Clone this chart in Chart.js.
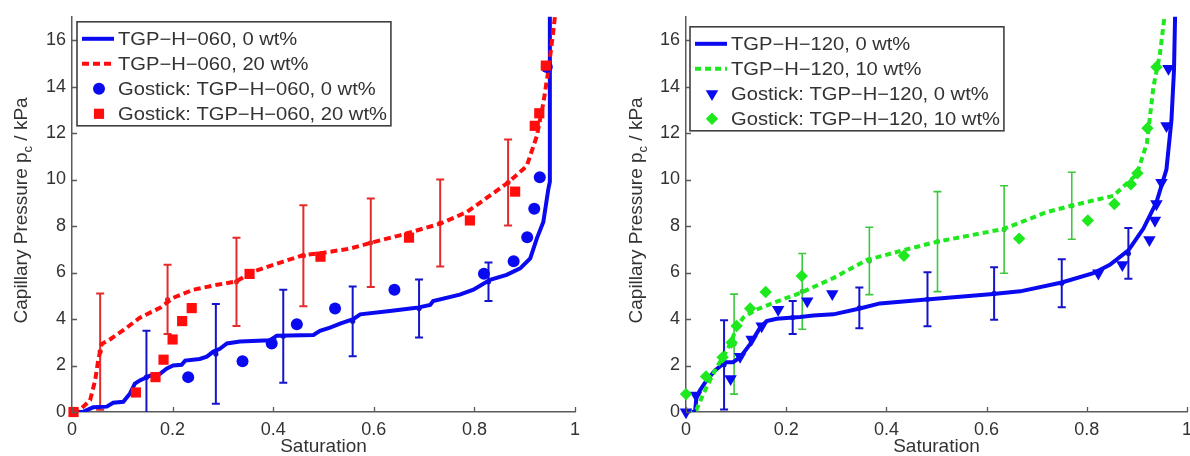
<!DOCTYPE html>
<html>
<head>
<meta charset="utf-8">
<script src="https://cdn.jsdelivr.net/npm/chart.js@4.4.0/dist/chart.umd.min.js"></script>
<style>
  html, body { margin: 0; padding: 0; background: #fff; overflow: hidden; }
  #wrap { position: relative; width: 1190px; height: 456px; overflow: hidden; }
  #leftChart { position: absolute; left: 0; top: 0; }
  #rightChart { position: absolute; left: 595px; top: 0; }
</style>
</head>
<body>
<div id="wrap">
  <canvas id="leftChart" width="595" height="456"></canvas>
  <canvas id="rightChart" width="620" height="456"></canvas>
</div>
<script>
'use strict';

// axes
let xTickValues = [0, 0.2, 0.4, 0.6, 0.8, 1];
let yTickValues = [0, 2, 4, 6, 8, 10, 12, 14, 16];
let xTitle = 'Saturation';
let yTitle = ['Capillary Pressure p', 'c', ' / kPa'];

// left panel: TGP-H-060
let leftLabels = ['TGP−H−060, 0 wt%', 'TGP−H−060, 20 wt%', 'Gostick: TGP−H−060, 0 wt%', 'Gostick: TGP−H−060, 20 wt%'];

let left0LineS = [0, 0.022, 0.042, 0.069, 0.082, 0.102, 0.115, 0.125, 0.135, 0.155, 0.175, 0.188, 0.201, 0.218, 0.225, 0.254, 0.268, 0.281, 0.294, 0.308, 0.334, 0.394, 0.407, 0.48, 0.493, 0.513, 0.533, 0.559, 0.573, 0.632, 0.685, 0.712, 0.718, 0.771, 0.798, 0.831, 0.864, 0.891, 0.911, 0.924, 0.937, 0.947, 0.95, 0.95];
let left0LineP = [0, 0.01, 0.2, 0.23, 0.4, 0.44, 0.79, 1.22, 1.36, 1.56, 1.64, 1.86, 2.0, 2.03, 2.21, 2.28, 2.38, 2.6, 2.72, 2.95, 3.03, 3.09, 3.28, 3.31, 3.49, 3.63, 3.8, 3.99, 4.2, 4.34, 4.48, 4.6, 4.77, 5.05, 5.26, 5.69, 5.9, 6.18, 6.61, 7.46, 8.17, 9.59, 9.9, 18];

let left20LineS = [0, 0.019, 0.036, 0.046, 0.052, 0.059, 0.076, 0.109, 0.135, 0.175, 0.201, 0.241, 0.288, 0.327, 0.36, 0.42, 0.46, 0.5, 0.553, 0.596, 0.652, 0.732, 0.785, 0.867, 0.904, 0.924, 0.937, 0.947, 0.957, 0.965];
let left20LineP = [0, 0.16, 0.51, 1.36, 2.21, 2.92, 3.13, 3.63, 4.06, 4.48, 4.91, 5.26, 5.47, 5.62, 6.04, 6.47, 6.75, 6.85, 7.03, 7.29, 7.6, 8.1, 8.6, 9.87, 10.58, 11.86, 13.28, 14.69, 16.4, 18];

let left0DataS = [0.231, 0.339, 0.397, 0.447, 0.523, 0.641, 0.819, 0.878, 0.905, 0.919, 0.93, 0.944];
let left0DataP = [1.5, 2.18, 2.95, 3.77, 4.45, 5.26, 5.95, 6.48, 7.52, 8.74, 10.1, 14.84];

let left20DataS = [0.003, 0.127, 0.166, 0.182, 0.2, 0.219, 0.238, 0.353, 0.494, 0.67, 0.791, 0.881, 0.92, 0.929, 0.942];
let left20DataP = [0, 0.84, 1.5, 2.25, 3.12, 3.91, 4.47, 5.94, 6.68, 7.5, 8.24, 9.48, 12.31, 12.85, 14.9];

let left0ErrS = [0.148, 0.286, 0.42, 0.558, 0.69, 0.828];
let left0ErrP = [1.5, 2.5, 3.26, 3.9, 4.45, 5.6];
let left0ErrD = [2.0, 2.15, 2.0, 1.5, 1.25, 0.83];

let left20ErrS = [0.056, 0.19, 0.327, 0.46, 0.594, 0.732, 0.867];
let left20ErrP = [2.6, 4.84, 5.6, 6.72, 7.28, 8.13, 9.87];
let left20ErrD = [2.5, 1.49, 1.9, 2.17, 1.9, 1.87, 1.85];

// right panel: TGP-H-120
let rightLabels = ['TGP−H−120, 0 wt%', 'TGP−H−120, 10 wt%', 'Gostick: TGP−H−120, 0 wt%', 'Gostick: TGP−H−120, 10 wt%'];

let right0LineS = [0, 0.018, 0.021, 0.028, 0.041, 0.058, 0.078, 0.094, 0.108, 0.128, 0.148, 0.161, 0.181, 0.228, 0.254, 0.294, 0.347, 0.387, 0.48, 0.613, 0.667, 0.75, 0.813, 0.846, 0.883, 0.913, 0.939, 0.959, 0.969, 0.974, 0.976, 0.977];
let right0LineP = [0, 0.01, 0.65, 0.94, 1.36, 1.79, 2.14, 2.14, 2.35, 2.92, 3.63, 3.91, 4.01, 4.09, 4.15, 4.2, 4.45, 4.67, 4.84, 5.08, 5.19, 5.57, 5.97, 6.33, 6.95, 7.89, 9.02, 10.44, 12.57, 14.69, 16.8, 18];

let right10LineS = [0, 0.021, 0.035, 0.048, 0.061, 0.074, 0.088, 0.101, 0.114, 0.141, 0.174, 0.228, 0.294, 0.361, 0.434, 0.5, 0.633, 0.667, 0.72, 0.77, 0.853, 0.9, 0.92, 0.933, 0.946, 0.954, 0.957];
let right10LineP = [0, 0.1, 0.8, 1.36, 1.93, 2.35, 2.92, 3.63, 4.06, 4.41, 4.69, 5.12, 5.76, 6.54, 6.96, 7.32, 7.87, 8.15, 8.6, 8.88, 9.3, 10.23, 11.57, 13.99, 15.4, 16.82, 18];

let right0DataS = [0, 0.02, 0.089, 0.108, 0.131, 0.151, 0.184, 0.242, 0.292, 0.823, 0.871, 0.925, 0.936, 0.939, 0.949, 0.959, 0.963];
let right0DataP = [0, 0.72, 1.43, 2.38, 3.13, 3.7, 4.41, 4.77, 5.08, 5.97, 6.33, 7.41, 8.24, 8.95, 9.87, 12.31, 14.77];

let right10DataS = [0, 0.04, 0.073, 0.091, 0.101, 0.128, 0.159, 0.231, 0.435, 0.665, 0.802, 0.855, 0.888, 0.901, 0.921, 0.939];
let right10DataP = [0.77, 1.53, 2.35, 2.99, 3.7, 4.45, 5.16, 5.85, 6.72, 7.46, 8.24, 8.95, 9.8, 10.27, 12.21, 14.84];

let right0ErrS = [0.076, 0.213, 0.346, 0.482, 0.615, 0.75, 0.883];
let right0ErrP = [2.03, 4.06, 4.48, 4.85, 5.1, 5.54, 6.82];
let right0ErrD = [1.92, 0.71, 0.88, 1.16, 1.13, 1.03, 1.09];

let right10ErrS = [0.096, 0.232, 0.366, 0.502, 0.635, 0.77];
let right10ErrP = [2.92, 5.19, 6.5, 7.33, 7.85, 8.87];
let right10ErrD = [2.15, 1.63, 1.45, 2.15, 1.88, 1.44];


let fontFamily = '"Liberation Sans", Arial, Helvetica, sans-serif';
let axisColor = '#5a5a5a';
let blue = '#0a0af0';
let red = '#ff0d0d';
let green = '#1ee81e';

Chart.defaults.font.family = fontFamily;


function pairs(xs, ys) {
  let out = [];
  for (let i = 0; i < xs.length; i++) {
    out.push({ x: xs[i], y: ys[i] });
  }
  return out;
}

// same sizes chart.js uses for its point styles
function drawMarker(ctx, style, rotation, r, x, y) {
  ctx.beginPath();
  if (style === 'circle') {
    ctx.arc(x, y, r, 0, Math.PI * 2);
  } else if (style === 'rect') {
    let h = Math.SQRT1_2 * r;
    ctx.rect(x - h, y - h, 2 * h, 2 * h);
  } else if (style === 'rectRot') {
    ctx.moveTo(x, y - r);
    ctx.lineTo(x + r, y);
    ctx.lineTo(x, y + r);
    ctx.lineTo(x - r, y);
  } else if (style === 'triangle') {
    let rad = (rotation || 0) * Math.PI / 180;
    for (let k = 0; k < 3; k++) {
      let a = rad + k * 2 * Math.PI / 3;
      let px = x + Math.sin(a) * r;
      let py = y - Math.cos(a) * r;
      if (k === 0) ctx.moveTo(px, py); else ctx.lineTo(px, py);
    }
  }
  ctx.closePath();
  ctx.fill();
}


let decorPlugin = {
  id: 'decor',

  beforeDatasetsDraw(chart, args, opts) {
    let ctx = chart.ctx;
    let xs = chart.scales.x;
    let ys = chart.scales.y;
    let area = chart.chartArea;
    ctx.save();
    ctx.beginPath();
    ctx.rect(area.left, area.top, area.right - area.left, area.bottom - area.top);
    ctx.clip();
    opts.errorBars.forEach(function (set) {
      ctx.strokeStyle = set.color;
      ctx.fillStyle = set.color;
      ctx.lineWidth = set.width;
      for (let i = 0; i < set.s.length; i++) {
        let px = xs.getPixelForValue(set.s[i]);
        let top = ys.getPixelForValue(set.p[i] + set.d[i]);
        let bot = ys.getPixelForValue(set.p[i] - set.d[i]);
        let mid = ys.getPixelForValue(set.p[i]);
        ctx.beginPath();
        ctx.moveTo(px, top);
        ctx.lineTo(px, bot);
        ctx.moveTo(px - 4, top);
        ctx.lineTo(px + 4, top);
        ctx.moveTo(px - 4, bot);
        ctx.lineTo(px + 4, bot);
        ctx.stroke();
        ctx.beginPath();
        ctx.arc(px, mid, 2.6, 0, Math.PI * 2);
        ctx.fill();
      }
    });
    ctx.restore();
  },

  afterDraw(chart, args, opts) {
    let ctx = chart.ctx;
    let xs = chart.scales.x;
    let ys = chart.scales.y;
    let area = chart.chartArea;
    ctx.save();

    // inward tick marks
    ctx.strokeStyle = axisColor;
    ctx.lineWidth = 1.3;
    ctx.beginPath();
    xTickValues.forEach(function (v) {
      let px = Math.round(xs.getPixelForValue(v)) + 0.5;
      ctx.moveTo(px, area.bottom);
      ctx.lineTo(px, area.bottom - 5);
    });
    yTickValues.forEach(function (v) {
      let py = Math.round(ys.getPixelForValue(v)) + 0.5;
      ctx.moveTo(area.left, py);
      ctx.lineTo(area.left + 5, py);
    });
    ctx.stroke();

    // axis titles
    ctx.fillStyle = '#333';
    ctx.textBaseline = 'middle';
    ctx.textAlign = 'center';
    ctx.font = '19px ' + fontFamily;
    ctx.fillText(xTitle, (area.left + area.right) / 2, 447);

    ctx.save();
    ctx.translate(opts.yTitleX, (area.top + area.bottom) / 2 - 4);
    ctx.rotate(-Math.PI / 2);
    ctx.textAlign = 'left';
    let bigFont = '19px ' + fontFamily;
    let smallFont = '13px ' + fontFamily;
    ctx.font = bigFont;
    let w0 = ctx.measureText(yTitle[0]).width;
    let w2 = ctx.measureText(yTitle[2]).width;
    ctx.font = smallFont;
    let w1 = ctx.measureText(yTitle[1]).width;
    let x0 = -(w0 + w1 + w2) / 2;
    ctx.font = bigFont;
    ctx.fillText(yTitle[0], x0, 0);
    ctx.font = smallFont;
    ctx.fillText(yTitle[1], x0 + w0, 6);
    ctx.font = bigFont;
    ctx.fillText(yTitle[2], x0 + w0 + w1, 0);
    ctx.restore();

    // legend box
    let sets = chart.data.datasets;
    let stretch = 1.12;
    ctx.font = '18px ' + fontFamily;
    let maxW = 0;
    sets.forEach(function (ds) {
      maxW = Math.max(maxW, ctx.measureText(ds.label).width * stretch);
    });
    let bx = area.left + opts.legendDx;
    let by = area.top + opts.legendDy;
    let bw = 41 + maxW + 4;
    let bh = 104;
    ctx.fillStyle = '#fff';
    ctx.fillRect(bx, by, bw, bh);
    ctx.strokeStyle = '#404040';
    ctx.lineWidth = 1.6;
    ctx.strokeRect(bx, by, bw, bh);

    sets.forEach(function (ds, i) {
      let ry = by + 17 + i * 25;
      if (ds.showLine) {
        ctx.save();
        ctx.strokeStyle = ds.borderColor;
        ctx.lineWidth = ds.borderWidth;
        ctx.setLineDash(ds.borderDash || []);
        ctx.beginPath();
        ctx.moveTo(bx + 5, ry);
        ctx.lineTo(bx + 37, ry);
        ctx.stroke();
        ctx.restore();
      } else {
        ctx.fillStyle = ds.pointBackgroundColor;
        drawMarker(ctx, ds.pointStyle, ds.pointRotation, ds.pointRadius, bx + 22, ry);
      }
      ctx.save();
      ctx.fillStyle = '#333';
      ctx.textAlign = 'left';
      ctx.textBaseline = 'middle';
      ctx.translate(bx + 41, ry + 1);
      ctx.scale(stretch, 1);
      ctx.fillText(ds.label, 0, 0);
      ctx.restore();
    });

    ctx.restore();
  }
};


function lineSet(label, xs, ys, color, dash, order) {
  return {
    label: label,
    data: pairs(xs, ys),
    showLine: true,
    borderColor: color,
    borderWidth: 4,
    borderDash: dash,
    pointRadius: 0,
    tension: 0,
    order: order
  };
}

function markSet(label, xs, ys, color, style, rotation, radius, order) {
  return {
    label: label,
    data: pairs(xs, ys),
    showLine: false,
    pointStyle: style,
    pointRotation: rotation,
    pointRadius: radius,
    pointBackgroundColor: color,
    pointBorderColor: color,
    pointBorderWidth: 0,
    clip: false,
    order: order
  };
}

function makeOptions(yWidth, padRight, decor) {
  return {
    responsive: false,
    animation: false,
    devicePixelRatio: 1,
    events: [],
    layout: { padding: { left: 0, right: padRight, top: 13, bottom: 0 } },
    plugins: {
      legend: { display: false },
      tooltip: { enabled: false },
      decor: decor
    },
    scales: {
      x: {
        type: 'linear',
        min: 0,
        max: 1,
        grid: { display: false, drawTicks: false },
        border: { display: true, color: axisColor, width: 1.5 },
        ticks: {
          color: '#333',
          font: { size: 18 },
          padding: 7,
          maxRotation: 0,
          callback: function (value) { return String(value); }
        },
        afterBuildTicks: function (scale) {
          scale.ticks = xTickValues.map(function (v) { return { value: v }; });
        },
        afterFit: function (scale) { scale.height = 44; }
      },
      y: {
        type: 'linear',
        min: 0,
        max: 17,
        grid: { display: false, drawTicks: false },
        border: { display: true, color: axisColor, width: 1.5 },
        ticks: {
          color: '#333',
          font: { size: 18 },
          padding: 6,
          callback: function (value) { return String(value); }
        },
        afterBuildTicks: function (scale) {
          scale.ticks = yTickValues.map(function (v) { return { value: v }; });
        },
        afterFit: function (scale) { scale.width = yWidth; }
      }
    }
  };
}


let leftChart = new Chart(document.getElementById('leftChart'), {
  type: 'scatter',
  data: {
    datasets: [
      lineSet(leftLabels[0], left0LineS, left0LineP, blue, [], 3),
      lineSet(leftLabels[1], left20LineS, left20LineP, red, [7, 4], 2),
      markSet(leftLabels[2], left0DataS, left0DataP, blue, 'circle', 0, 6, 1),
      markSet(leftLabels[3], left20DataS, left20DataP, red, 'rect', 0, 7.2, 0)
    ]
  },
  options: makeOptions(72, 20, {
    yTitleX: 22,
    legendDx: 5,
    legendDy: 5,
    errorBars: [
      { s: left0ErrS, p: left0ErrP, d: left0ErrD, color: '#1414cc', width: 2 },
      { s: left20ErrS, p: left20ErrP, d: left20ErrD, color: '#e42a2a', width: 2 }
    ]
  }),
  plugins: [decorPlugin]
});

let rightChart = new Chart(document.getElementById('rightChart'), {
  type: 'scatter',
  data: {
    datasets: [
      lineSet(rightLabels[0], right0LineS, right0LineP, blue, [], 3),
      lineSet(rightLabels[1], right10LineS, right10LineP, green, [6, 4], 2),
      markSet(rightLabels[2], right0DataS, right0DataP, blue, 'triangle', 180, 7.2, 1),
      markSet(rightLabels[3], right10DataS, right10DataP, green, 'rectRot', 0, 6.2, 0)
    ]
  },
  options: makeOptions(91, 28, {
    yTitleX: 42,
    legendDx: 4,
    legendDy: 10,
    errorBars: [
      { s: right0ErrS, p: right0ErrP, d: right0ErrD, color: '#1414cc', width: 2 },
      { s: right10ErrS, p: right10ErrP, d: right10ErrD, color: '#3cc83c', width: 1.6 }
    ]
  }),
  plugins: [decorPlugin]
});
</script>
</body>
</html>
